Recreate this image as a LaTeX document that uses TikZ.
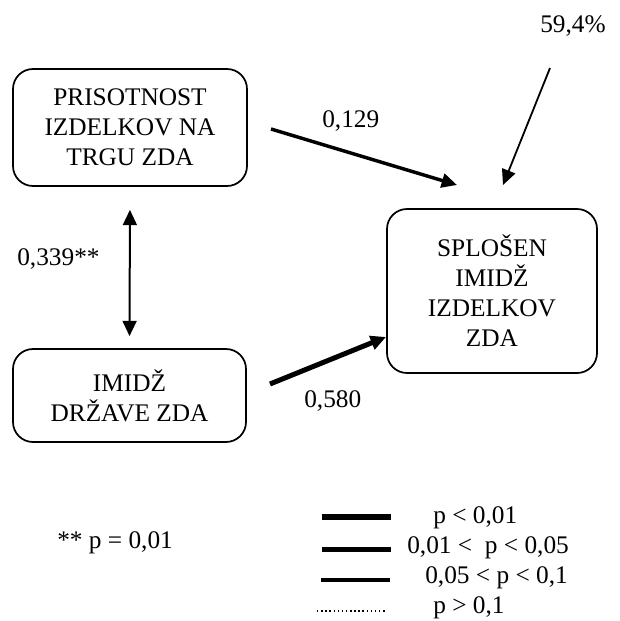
\documentclass[tikz,border=0pt]{standalone}
\usepackage{fontspec}
\setmainfont{Liberation Serif}
\usepackage{tikz}
\usetikzlibrary{arrows.meta}

\begin{document}
\begin{tikzpicture}[x=0.75pt,y=0.75pt,yscale=-1,xscale=1,
	font=\fontsize{19}{22.5}\selectfont,
	>={Triangle[length=11.5pt,width=10.5pt]},
	block/.style={draw,line width=1.3pt,rounded corners=15pt,align=center,inner sep=0pt},
	txt/.style={anchor=base west,inner sep=0pt}]
	\useasboundingbox (0,0) rectangle (620,621);
	
	%Rounded Rect
	\node (prisotnost) [block,minimum width=175.5pt,minimum height=87.75pt] at (130,127.5) {PRISOTNOST\\IZDELKOV NA\\TRGU ZDA};
	%Rounded Rect
	\node (splosen) [block,minimum width=157.5pt,minimum height=123pt] at (492,291) {SPLOŠEN\\IMIDŽ\\IZDELKOV\\ZDA};
	%Rounded Rect
	\node (imidz) [block,minimum width=174.75pt,minimum height=69.75pt] at (129.5,395.5) {IMIDŽ\\DRŽAVE ZDA};
	
	%Free ends
	\coordinate (a129) at (271,129);
	\coordinate (b129) at (457,185);
	\coordinate (a580) at (270,384);
	\coordinate (b580) at (386,337);
	\coordinate (a594) at (550,68);
	\coordinate (b594) at (503,185);
	
	%Straight Lines
	\draw [<->,line width=1.5pt,shorten <=17.25pt,shorten >=9pt] (prisotnost.south) -- (imidz.north);
	%Straight Lines
	\draw [->,line width=2.6pt] (a129) -- (b129);
	%Straight Lines
	\draw [->,line width=3.75pt] (a580) -- (b580);
	%Straight Lines
	\draw [->,line width=1.35pt] (a594) -- (b594);
	
	%Legend lines
	\draw [line width=4.5pt] (322,517) -- (391,517);
	\draw [line width=3.75pt] (322,549) -- (391,549);
	\draw [line width=3pt] (321,580) -- (390,580);
	\draw [line width=1.1pt,dash pattern=on 1.1pt off 2pt] (317,611) -- (387,611);
	
	% Text Node
	\node (n594) [txt] at (540,32) {59,4\%};
	% Text Node
	\node (n129) [txt] at (322,127) {0,129};
	% Text Node
	\node (n339) [txt] at (17,265) {0,339**};
	% Text Node
	\node (n580) [txt] at (304,407) {0,580};
	% Text Node
	\node (zvezdi) [txt] at (57,548) {** p = 0,01};
	% Text Node
	\node (p1) [txt] at (433,523) {p < 0,01};
	% Text Node
	\node (p2) [txt] at (407,553) {0,01 < \ p < 0,05};
	% Text Node
	\node (p3) [txt] at (425,583) {0,05 < p < 0,1};
	% Text Node
	\node (p4) [txt] at (433,613) {p > 0,1};
	
\end{tikzpicture}
\end{document}
